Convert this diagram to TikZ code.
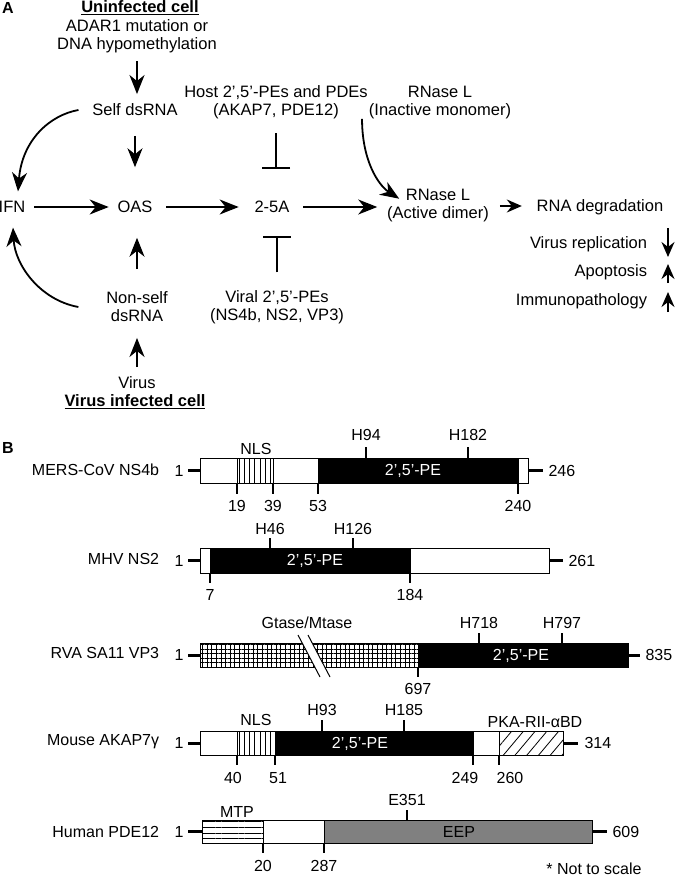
\documentclass[tikz,border=0pt]{standalone}
\usepackage{fontspec}
\setmainfont{Liberation Sans}
\usetikzlibrary{positioning}
\usetikzlibrary{arrows.meta,patterns.meta,calc}
\definecolor{eepgray}{rgb}{0.5,0.5,0.5}

\tikzset{
  txt/.style={inner sep=0pt, align=center, font=\fontsize{16.5}{18}\selectfont},
  hd/.style={inner sep=0pt, font=\fontsize{16}{18}\selectfont\bfseries},
  btxt/.style={inner sep=0pt, font=\fontsize{16}{18}\selectfont},
  dom/.style={draw=black, line width=1pt},
  tickline/.style={line width=2.6pt},
  stub/.style={line width=3pt},
  inhib/.style={-{Bar[width=28pt]}},
  smallarr/.style={-{Stealth[length=15pt,width=13pt,inset=5pt]}},
}

\begin{document}
\begin{tikzpicture}
[x=1pt, y=-1pt, line width=1.8pt, >={Stealth[length=19pt,width=15pt,inset=6pt]}]
\useasboundingbox (0,0) rectangle (675,879);

% Panel A: the OAS-RNase L pathway
\node[hd] (labA) at (8,8) {A};
\node[txt] (uninf) at (140,8) {\underline{\textbf{Uninfected cell}}};
\node[txt] (adar) at (137,36) {ADAR1 mutation or\\DNA hypomethylation};
\node[txt] (self) at (135,110) {Self dsRNA};
\node[txt] (host) at (276,102.5) {Host 2’,5’-PEs and PDEs\\(AKAP7, PDE12)};
\node[txt] (rnli) at (440,102.5) {RNase L\\(Inactive monomer)};
\node[txt] (ifn) at (12,207) {IFN};
\node[txt] (oas) at (135,207) {OAS};
\node[txt] (tfa) at (272,207) {2-5A};
\node[txt] (rnla) at (438,206) {RNase L\\(Active dimer)};
\node[txt] (deg) at (600,207) {RNA degradation};
\node[txt, anchor=east] (vrep) at (648,244) {Virus replication};
\node[txt, anchor=east] (apop) at (648,272) {Apoptosis};
\node[txt, anchor=east] (immp) at (648,301) {Immunopathology};
\node[txt] (nself) at (137,307) {Non-self\\dsRNA};
\node[txt] (viral) at (277,307) {Viral 2’,5’-PEs\\(NS4b, NS2, VP3)};
\node[txt] (virus) at (137,383) {Virus};
\node[txt] (vinf) at (135,402) {\underline{\textbf{Virus infected cell}}};

% vertical arrows into OAS
\draw[->, shorten <=7.5pt, shorten >=9pt] (adar.south) -- (adar.south |- self.north);
\draw[->, shorten <=19pt, shorten >=33pt] (self.south) -- (self.south |- oas.north);
\draw[->, shorten <=22pt, shorten >=24pt] (nself.north) -- (nself.north |- oas.south);
\draw[->, shorten <=9pt, shorten >=15pt] (virus.north) -- (virus.north |- nself.south);

% main line
\draw[->, shorten <=8pt, shorten >=8pt] (ifn.east) -- (oas.west);
\draw[->, shorten <=13pt, shorten >=15pt] (oas.east) -- (tfa.west);
\draw[->, shorten <=13pt, shorten >=9pt] (tfa.east) -- (tfa.east -| rnla.west);
\draw[smallarr, shorten <=10pt, shorten >=14pt] (rnla.east) -- (rnla.east -| deg.west);

% inhibitors of 2-5A
\draw[inhib, shorten <=13pt, shorten >=31pt] (host.south) -- (host.south |- tfa.north);
\draw[inhib, shorten <=17pt, shorten >=22pt] (viral.north) -- (viral.north |- tfa.south);

% feedback to IFN and RNase L activation
\draw[->] ($(self.west)+(-13,0)$) .. controls (50,115) and (22,140) .. ($(ifn.north)+(6,-9)$);
\draw[->] ($(nself.west)+(-27,0)$) .. controls (40,300) and (15,265) .. ($(ifn.south)+(1,14)$);
\draw[->] ($(rnli.south west)+(-6,-1)$) .. controls (362,160) and (378,185) .. ($(rnla.north west)+(13,10)$);

% outcomes
\draw[smallarr] ($(vrep.east)+(20,-16)$) -- ($(vrep.east)+(20,13)$);
\draw[smallarr] ($(apop.east)+(20,11)$) -- ($(apop.east)+(20,-8)$);
\draw[smallarr] ($(immp.east)+(20,11)$) -- ($(immp.east)+(20,-9)$);

% Panel B: domain maps
\node[hd] (labB) at (8,448) {B};

% MERS-CoV NS4b
\node[btxt, anchor=east] (mers) at (160,470) {MERS-CoV NS4b};
\draw[stub] (200,470.5) -- (188,470.5) node[btxt, left=3pt] {1};
\draw[stub] (528,470.5) -- (543,470.5) node[btxt, right=4pt] {246};
\draw[dom, fill=white] (200,458) rectangle (528,483);
\draw[dom, pattern={Lines[angle=90,distance=5.2pt,line width=0.8pt]}] (237,458) rectangle (273,483);
\draw[dom, fill=black] (318,458) rectangle (518,483);
\node[btxt, text=white] (mpe) at (413,471) {2’,5’-PE};
\node[btxt] (mnls) at (256,449) {NLS};
\draw[tickline] (237,483) -- (237,494) node[btxt, below=5pt] {19};
\draw[tickline] (273,483) -- (273,494) node[btxt, below=5pt] {39};
\draw[tickline] (318,483) -- (318,494) node[btxt, below=5pt] {53};
\draw[tickline] (518,483) -- (518,494) node[btxt, below=5pt] {240};
\draw[tickline] (366,458) -- (366,447) node[btxt, above=5pt] {H94};
\draw[tickline] (468,458) -- (468,447) node[btxt, above=5pt] {H182};

% MHV NS2
\node[btxt, anchor=east] (mhv) at (160,559) {MHV NS2};
\draw[stub] (200,560.5) -- (188,560.5) node[btxt, left=3pt] {1};
\draw[stub] (549,560.5) -- (563,560.5) node[btxt, right=4pt] {261};
\draw[dom, fill=white] (200,548) rectangle (549,573);
\draw[dom, fill=black] (210,548) rectangle (410,573);
\node[btxt, text=white] (hpe) at (315,561) {2’,5’-PE};
\draw[tickline] (210,573) -- (210,583) node[btxt, below=5pt] {7};
\draw[tickline] (410,573) -- (410,583) node[btxt, below=5pt] {184};
\draw[tickline] (270,548) -- (270,538) node[btxt, above=2pt] {H46};
\draw[tickline] (353,548) -- (353,538) node[btxt, above=2pt] {H126};

% RVA SA11 VP3
\node[btxt, anchor=east] (rva) at (160,653) {RVA SA11 VP3};
\draw[stub] (200,655) -- (188,655) node[btxt, left=3pt] {1};
\draw[stub] (628,655) -- (640,655) node[btxt, right=4pt] {835};
\draw[dom, fill=white, pattern={Hatch[angle=0,distance=4.6pt,line width=0.6pt]}] (200,643) rectangle (418,667);
\draw[dom, fill=black] (418,643) rectangle (628,667);
\fill[white] (298,635) -- (308,635) -- (330,677) -- (320,677) -- cycle;
\draw[line width=1pt] (298,635) -- (320,677) (308,635) -- (330,677);
\node[btxt] (gtase) at (307,623) {Gtase/Mtase};
\node[btxt, text=white] (rpe) at (521,656) {2’,5’-PE};
\draw[tickline] (418,667) -- (418,677) node[btxt, below=5pt] {697};
\draw[tickline] (479,643) -- (479,633) node[btxt, above=3pt] {H718};
\draw[tickline] (562,643) -- (562,633) node[btxt, above=3pt] {H797};

% Mouse AKAP7 gamma
\node[btxt, anchor=east] (akap) at (160,742) {Mouse AKAP7γ};
\draw[stub] (200,743) -- (188,743) node[btxt, left=3pt] {1};
\draw[stub] (563,743) -- (578,743) node[btxt, right=5pt] {314};
\draw[dom, fill=white] (200,731) rectangle (563,755);
\draw[dom, pattern={Lines[angle=90,distance=5.2pt,line width=0.8pt]}] (237,731) rectangle (275,755);
\draw[dom, fill=black] (275,731) rectangle (473,755);
\draw[dom, pattern={Lines[angle=50,distance=9pt,line width=0.8pt]}] (499,731) rectangle (563,755);
\node[btxt, text=white] (ape) at (360,744) {2’,5’-PE};
\node[btxt] (anls) at (256,720) {NLS};
\node[btxt] (pka) at (535,722) {PKA-RII-αBD};
\draw[tickline] (237,755) -- (237,765) node[btxt, below=6pt, xshift=-4pt] {40};
\draw[tickline] (275,755) -- (275,765) node[btxt, below=6pt, xshift=3pt] {51};
\draw[tickline] (473,755) -- (473,765) node[btxt, below=6pt, xshift=-8pt] {249};
\draw[tickline] (499,755) -- (499,765) node[btxt, below=6pt, xshift=11pt] {260};
\draw[tickline] (322,731) -- (322,720) node[btxt, above=3pt] {H93};
\draw[tickline] (404,731) -- (404,720) node[btxt, above=3pt] {H185};

% Human PDE12
\node[btxt, anchor=east] (pde) at (160,832) {Human PDE12};
\draw[stub] (202,831.5) -- (188,831.5) node[btxt, left=3pt] {1};
\draw[stub] (592,831.5) -- (607,831.5) node[btxt, right=4pt] {609};
\draw[dom, fill=white] (202,820) rectangle (592,843);
\draw[dom, pattern={Lines[angle=0,distance=5.75pt,line width=0.8pt]}] (202,820) rectangle (263,843);
\draw[dom, fill=eepgray] (324,820) rectangle (592,843);
\node[btxt] (eep) at (459,832) {EEP};
\node[btxt] (mtp) at (237,812) {MTP};
\draw[tickline] (263,843) -- (263,853) node[btxt, below=6pt] {20};
\draw[tickline] (324,843) -- (324,853) node[btxt, below=6pt] {287};
\draw[tickline] (407,820) -- (407,810) node[btxt, above=3pt] {E351};

\node[btxt] (note) at (594,869) {* Not to scale};
\end{tikzpicture}
\end{document}
